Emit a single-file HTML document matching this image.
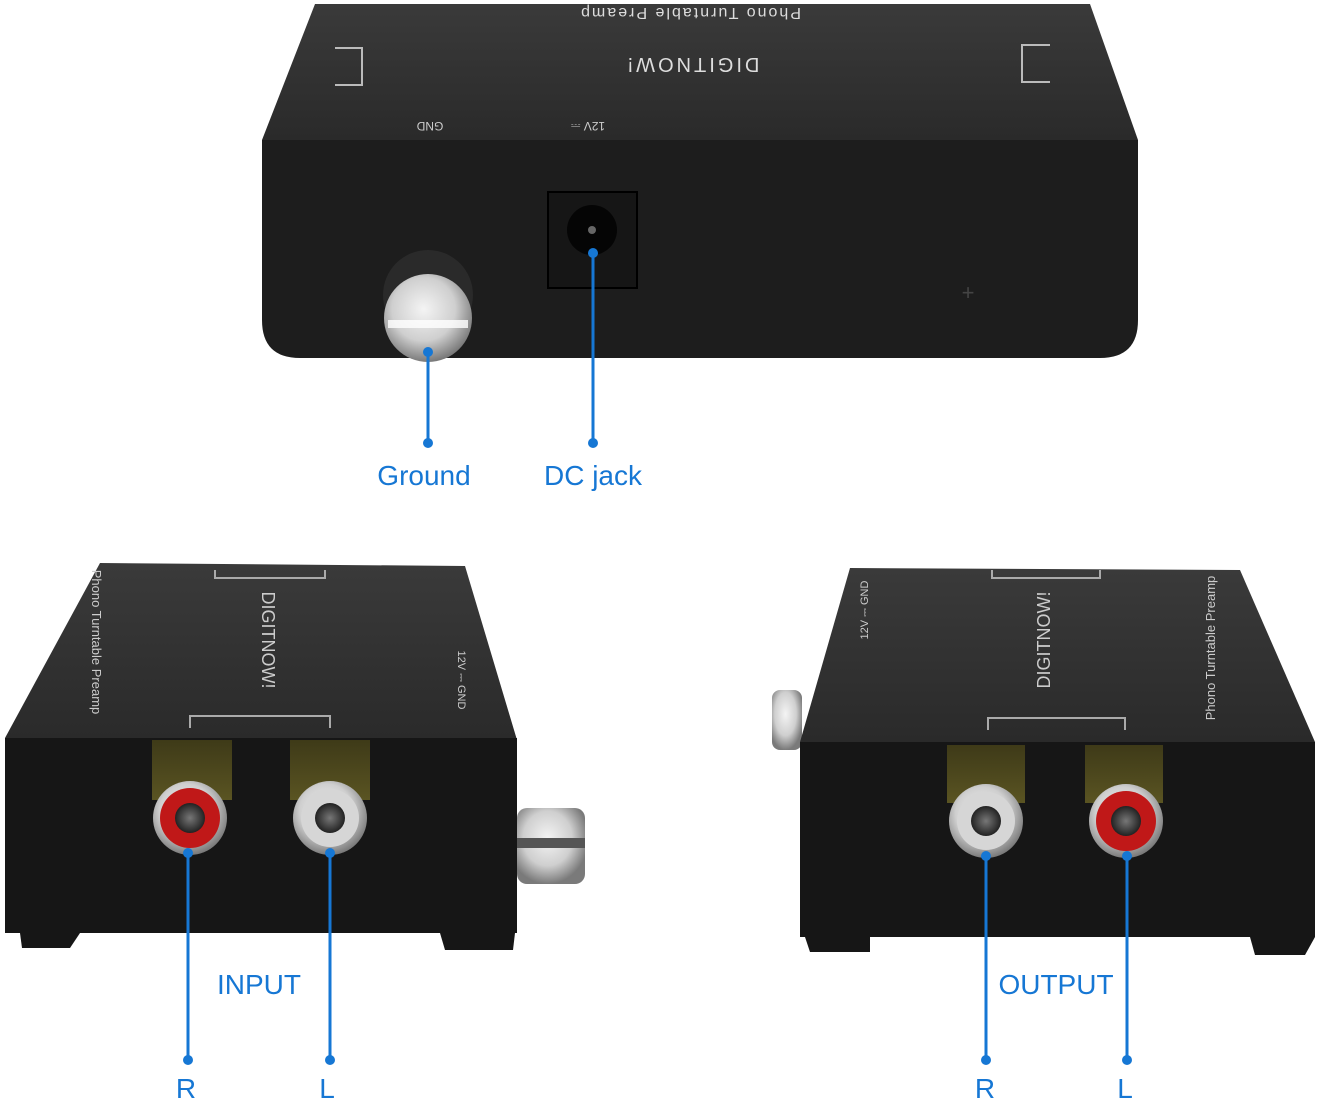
<!DOCTYPE html>
<html><head><style>
html,body{margin:0;padding:0;background:#fff;}
svg{display:block;}
text{font-family:"Liberation Sans",sans-serif;}
</style></head><body>
<svg width="1322" height="1111" viewBox="0 0 1322 1111" xmlns="http://www.w3.org/2000/svg">
<defs>
<radialGradient id="silver" cx="0.45" cy="0.4" r="0.6"><stop offset="0" stop-color="#f4f4f4"/><stop offset="0.6" stop-color="#cfcfcf"/><stop offset="1" stop-color="#7a7a7a"/></radialGradient>
<radialGradient id="hole" cx="0.5" cy="0.5" r="0.5"><stop offset="0" stop-color="#777"/><stop offset="1" stop-color="#222"/></radialGradient>
<linearGradient id="top1" x1="0" y1="0" x2="0" y2="1"><stop offset="0" stop-color="#3a3a3a"/><stop offset="1" stop-color="#2a2a2a"/></linearGradient>
<linearGradient id="gold" x1="0" y1="0" x2="0" y2="1"><stop offset="0" stop-color="#3e3a18"/><stop offset="1" stop-color="#5a5422"/></linearGradient>
</defs>

<!-- TOP DEVICE -->
<polygon points="315,4 1090,4 1138,140 262,140" fill="url(#top1)"/>
<path d="M262,140 H1138 V320 Q1138,358 1100,358 H300 Q262,358 262,320 Z" fill="#1d1d1d"/>
<text x="690" y="20" fill="#ddd" font-size="16" text-anchor="middle" letter-spacing="2" transform="rotate(180 690 14)">Phono  Turntable  Preamp</text>
<text x="692" y="70" fill="#ddd" font-size="20" text-anchor="middle" letter-spacing="3" transform="rotate(180 692 64)">DIGITNOW!</text>
<text x="430" y="130" fill="#ccc" font-size="12" text-anchor="middle" transform="rotate(180 430 126)">GND</text>
<text x="588" y="130" fill="#ccc" font-size="12" text-anchor="middle" transform="rotate(180 588 126)">12V ⎓</text>
<path d="M335,48 H362 V85 H335" fill="none" stroke="#bbb" stroke-width="2"/>
<path d="M1050,45 H1022 V82 H1050" fill="none" stroke="#bbb" stroke-width="2"/>
<rect x="548" y="192" width="89" height="96" fill="#161616" stroke="#000" stroke-width="2"/>
<circle cx="592" cy="230" r="25" fill="#050505"/>
<circle cx="592" cy="230" r="4" fill="#666"/>
<circle cx="428" cy="295" r="45" fill="#2a2a2a"/>
<circle cx="428" cy="318" r="44" fill="url(#silver)"/>
<rect x="388" y="320" width="80" height="8" fill="#fff" opacity="0.8"/>
<text x="968" y="300" fill="#444" font-size="22" text-anchor="middle">+</text>
<line x1="428" y1="352" x2="428" y2="443" stroke="#1677d4" stroke-width="3"/>
<circle cx="428" cy="352" r="5" fill="#1677d4"/><circle cx="428" cy="443" r="5" fill="#1677d4"/>
<line x1="593" y1="253" x2="593" y2="443" stroke="#1677d4" stroke-width="3"/>
<circle cx="593" cy="253" r="5" fill="#1677d4"/><circle cx="593" cy="443" r="5" fill="#1677d4"/>
<text x="424" y="485" fill="#1677d4" font-size="28" text-anchor="middle">Ground</text>
<text x="593" y="485" fill="#1677d4" font-size="28" text-anchor="middle">DC jack</text>

<!-- BOTTOM LEFT DEVICE -->
<polygon points="100,563 465,566 517,740 5,738" fill="url(#top1)"/>
<rect x="5" y="738" width="512" height="195" fill="#161616"/>
<polygon points="20,933 80,933 70,948 22,948" fill="#161616"/>
<polygon points="440,933 515,933 513,950 445,950" fill="#161616"/>
<text x="262" y="640" fill="#ccc" font-size="18" text-anchor="middle" transform="rotate(90 262 640)">DIGITNOW!</text>
<text x="92" y="642" fill="#ccc" font-size="13" text-anchor="middle" transform="rotate(90 92 642)">Phono Turntable Preamp</text>
<text x="458" y="680" fill="#ccc" font-size="11" text-anchor="middle" transform="rotate(90 458 680)">12V ⎓   GND</text>
<path d="M190,728 V716 H330 V728" fill="none" stroke="#aaa" stroke-width="2"/>
<path d="M215,570 V578 H325 V570" fill="none" stroke="#aaa" stroke-width="2"/>
<rect x="152" y="740" width="80" height="60" fill="url(#gold)"/>
<rect x="290" y="740" width="80" height="60" fill="url(#gold)"/>
<circle cx="190" cy="818" r="37" fill="url(#silver)"/><circle cx="190" cy="818" r="30" fill="#c01818"/><circle cx="190" cy="818" r="15" fill="url(#hole)"/>
<circle cx="330" cy="818" r="37" fill="url(#silver)"/><circle cx="330" cy="818" r="29" fill="#d6d6d6"/><circle cx="330" cy="818" r="15" fill="url(#hole)"/>
<rect x="517" y="808" width="68" height="76" rx="10" fill="url(#silver)"/>
<rect x="517" y="838" width="68" height="10" fill="#555"/>
<line x1="188" y1="853" x2="188" y2="1060" stroke="#1677d4" stroke-width="3"/>
<circle cx="188" cy="853" r="5" fill="#1677d4"/><circle cx="188" cy="1060" r="5" fill="#1677d4"/>
<line x1="330" y1="853" x2="330" y2="1060" stroke="#1677d4" stroke-width="3"/>
<circle cx="330" cy="853" r="5" fill="#1677d4"/><circle cx="330" cy="1060" r="5" fill="#1677d4"/>
<text x="259" y="994" fill="#1677d4" font-size="28" text-anchor="middle">INPUT</text>
<text x="186" y="1098" fill="#1677d4" font-size="28" text-anchor="middle">R</text>
<text x="327" y="1098" fill="#1677d4" font-size="28" text-anchor="middle">L</text>

<!-- BOTTOM RIGHT DEVICE -->
<rect x="772" y="690" width="30" height="60" rx="8" fill="url(#silver)"/>
<polygon points="850,568 1240,570 1315,742 800,742" fill="url(#top1)"/>
<rect x="800" y="742" width="515" height="195" fill="#161616"/>
<polygon points="805,937 870,937 870,952 810,952" fill="#161616"/>
<polygon points="1250,937 1315,937 1305,955 1255,955" fill="#161616"/>
<text x="1050" y="640" fill="#ccc" font-size="18" text-anchor="middle" transform="rotate(-90 1050 640)">DIGITNOW!</text>
<text x="1215" y="648" fill="#ccc" font-size="13" text-anchor="middle" transform="rotate(-90 1215 648)">Phono Turntable Preamp</text>
<text x="868" y="610" fill="#ccc" font-size="11" text-anchor="middle" transform="rotate(-90 868 610)">12V ⎓   GND</text>
<path d="M988,730 V718 H1125 V730" fill="none" stroke="#aaa" stroke-width="2"/>
<path d="M992,570 V578 H1100 V570" fill="none" stroke="#aaa" stroke-width="2"/>
<rect x="947" y="745" width="78" height="58" fill="url(#gold)"/>
<rect x="1085" y="745" width="78" height="58" fill="url(#gold)"/>
<circle cx="986" cy="821" r="37" fill="url(#silver)"/><circle cx="986" cy="821" r="29" fill="#d6d6d6"/><circle cx="986" cy="821" r="15" fill="url(#hole)"/>
<circle cx="1126" cy="821" r="37" fill="url(#silver)"/><circle cx="1126" cy="821" r="30" fill="#c01818"/><circle cx="1126" cy="821" r="15" fill="url(#hole)"/>
<line x1="986" y1="856" x2="986" y2="1060" stroke="#1677d4" stroke-width="3"/>
<circle cx="986" cy="856" r="5" fill="#1677d4"/><circle cx="986" cy="1060" r="5" fill="#1677d4"/>
<line x1="1127" y1="856" x2="1127" y2="1060" stroke="#1677d4" stroke-width="3"/>
<circle cx="1127" cy="856" r="5" fill="#1677d4"/><circle cx="1127" cy="1060" r="5" fill="#1677d4"/>
<text x="1056" y="994" fill="#1677d4" font-size="28" text-anchor="middle">OUTPUT</text>
<text x="985" y="1098" fill="#1677d4" font-size="28" text-anchor="middle">R</text>
<text x="1125" y="1098" fill="#1677d4" font-size="28" text-anchor="middle">L</text>
</svg>
</body></html>
